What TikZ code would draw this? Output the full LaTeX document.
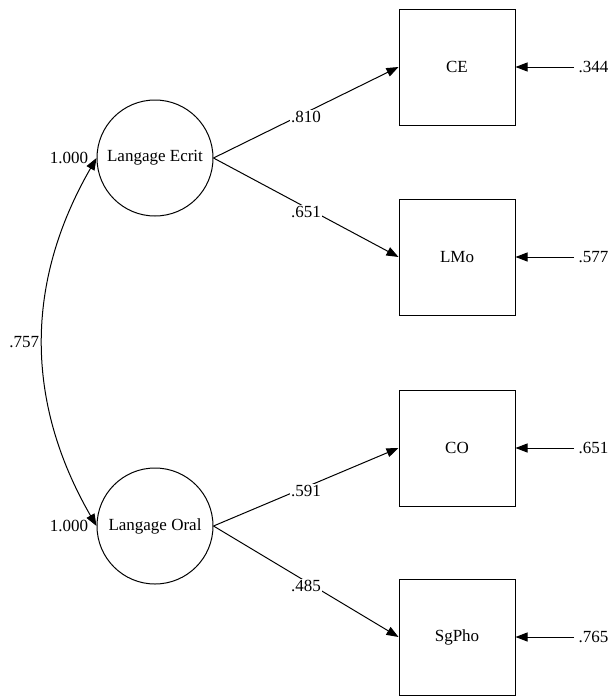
\documentclass[tikz,border=0pt]{standalone}
\usepackage{fontspec}
\setmainfont{Liberation Serif}
\usetikzlibrary{arrows.meta}
\begin{document}
\begin{tikzpicture}[x=1pt,y=-1pt,
  font=\fontsize{17}{20}\selectfont,
  every path/.style={line width=1pt},
  latent/.style={draw, circle, minimum size=116pt, inner sep=0pt},
  observed/.style={draw, rectangle, minimum size=116pt, inner sep=0pt},
  arr/.style={-{Triangle[length=12pt,width=9pt]}},
  darr/.style={{Triangle[length=12pt,width=9pt]}-{Triangle[length=12pt,width=9pt]}},
  coef/.style={fill=white, inner sep=1pt, yshift=-4pt},
  lbl/.style={inner sep=0pt}]
\useasboundingbox (0,0) rectangle (608,696);
\node[latent] (ecrit) at (155,158) {Langage Ecrit};
\node[latent] (oral) at (155,526) {Langage Oral};
\node[observed] (ce) at (457,67) {CE};
\node[observed] (lmo) at (457,257) {LMo};
\node[observed] (co) at (457,448) {CO};
\node[observed] (sgpho) at (457,637) {SgPho};
\coordinate (rce) at (574,67);
\coordinate (rlmo) at (574,257);
\coordinate (rco) at (574,448);
\coordinate (rsg) at (574,637);
\draw[arr] (ecrit.east) -- node[coef] {.810} (ce.west);
\draw[arr] (ecrit.east) -- node[coef] {.651} (lmo.west);
\draw[arr] (oral.east) -- node[coef] {.591} (co.west);
\draw[arr] (oral.east) -- node[coef] {.485} (sgpho.west);
\draw[arr] (rce) -- (ce.east);
\draw[arr] (rlmo) -- (lmo.east);
\draw[arr] (rco) -- (co.east);
\draw[arr] (rsg) -- (sgpho.east);
\node[lbl, anchor=west] (ece) at ([xshift=4pt]rce) {.344};
\node[lbl, anchor=west] (elmo) at ([xshift=4pt]rlmo) {.577};
\node[lbl, anchor=west] (eco) at ([xshift=4pt]rco) {.651};
\node[lbl, anchor=west] (esg) at ([xshift=4pt]rsg) {.765};
\draw[darr] (ecrit.west) to[bend right=30] node[left, inner sep=3pt] (cov) {.757} (oral.west);
\node[lbl, anchor=east] (vecrit) at ([xshift=-8pt]ecrit.west) {1.000};
\node[lbl, anchor=east] (voral) at ([xshift=-8pt]oral.west) {1.000};
\end{tikzpicture}
\end{document}
